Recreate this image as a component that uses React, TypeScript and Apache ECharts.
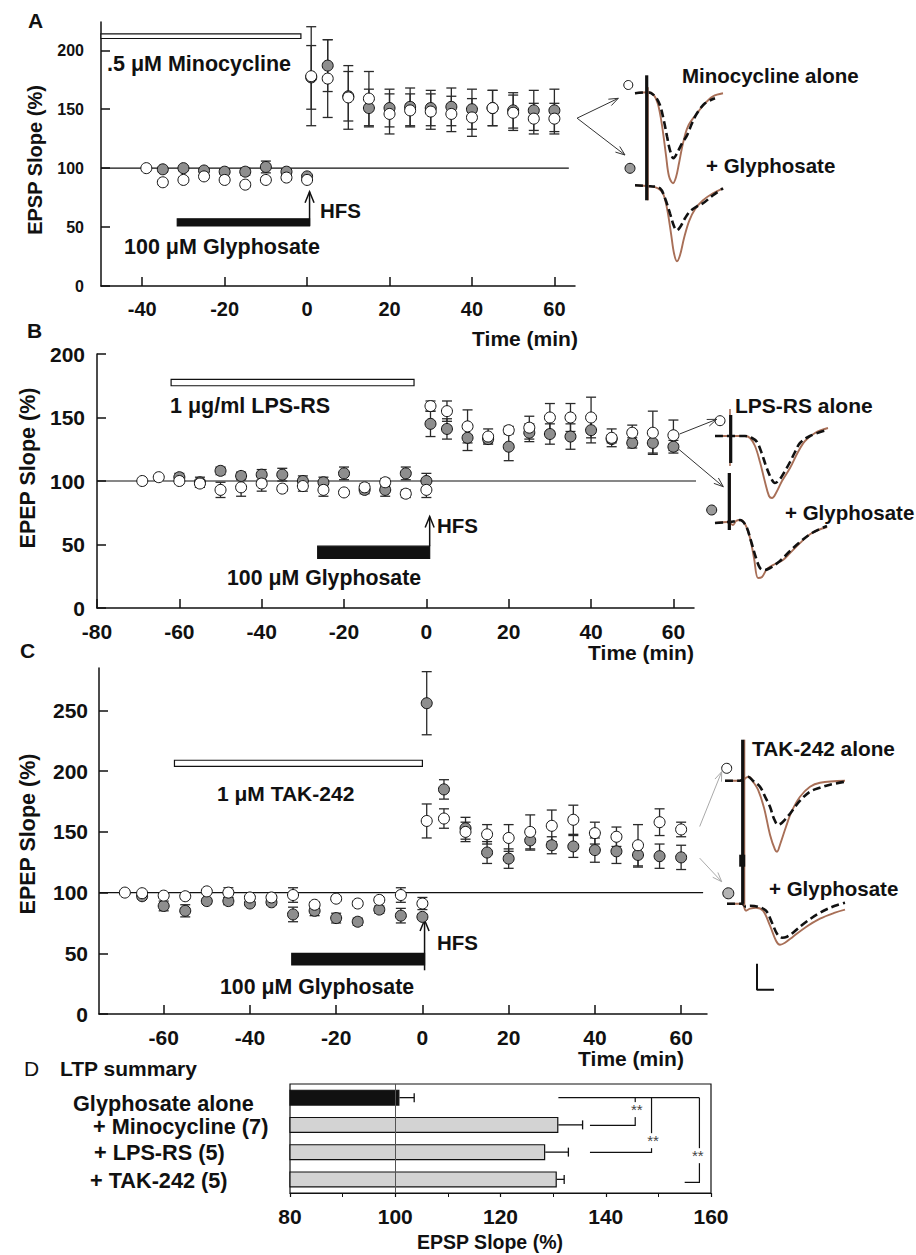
import React, { useEffect, useRef } from 'react';
import * as echarts from 'echarts';

const FONT = '"Liberation Sans", Arial, Helvetica, sans-serif';
const INK = '#111111';
const DOT_GRAY = '#8e8e8e';
const BROWN = '#a86f57';
const BASELINE = 100;

// ---------------- Panel A (Minocycline) ----------------
const A_GRAY_T = [-35, -30, -25, -20, -15, -10, -5, 0, 1, 5, 10, 15, 20, 25, 30, 35, 40, 45, 50, 55, 60];
const A_GRAY_V = [99, 100, 98, 97, 97, 101, 97, 93, 177, 187, 161, 151, 151, 152, 151, 152, 150, 151, 149, 149, 149];
const A_GRAY_E = [2, 2, 2, 2, 3, 5, 2, 1, 27, 22, 21, 16, 16, 16, 15, 16, 17, 15, 15, 17, 18];
const A_OPEN_T = [-39, -35, -30, -25, -20, -15, -10, -5, 0, 1, 5, 10, 15, 20, 25, 30, 35, 40, 45, 50, 55, 60];
const A_OPEN_V = [100, 88, 90, 93, 90, 86, 90, 92, 90, 178, 176, 160, 159, 146, 149, 148, 146, 143, 151, 147, 142, 142];
const A_OPEN_E = [1, 2, 2, 2, 2, 2, 2, 2, 2, 42, 33, 27, 23, 17, 14, 15, 15, 16, 15, 15, 13, 13];
const A_X_TICKS = [-40, -20, 0, 20, 40, 60];
const A_Y_TICKS = [0, 50, 100, 150, 200];
const A_DRUG_BAR = [-50, -1.5, 210, 214];
const A_GLY_BAR = [-31.5, 0.6, 51, 57];
const A_HFS = [0.6, 51, 80];
const A_LINE_END = 63.5;

// ---------------- Panel B (LPS-RS) ----------------
const B_OPEN_T = [-69, -65, -60, -55, -50, -45, -40, -35, -30, -25, -20, -15, -10, -5, 0, 1, 5, 10, 15, 20, 25, 30, 35, 40, 45, 50, 55, 60];
const B_OPEN_V = [100, 103, 100, 98, 93, 95, 98, 94, 96, 93, 91, 95, 99, 90, 93, 159, 155, 143, 135, 140, 142, 150, 150, 150, 134, 138, 138, 136];
const B_OPEN_E = [1, 1, 2, 3, 6, 7, 6, 2, 4, 5, 2, 3, 3, 3, 6, 4, 8, 13, 6, 3, 9, 11, 11, 16, 7, 6, 17, 12];
const B_GRAY_T = [-60, -55, -50, -45, -40, -35, -30, -25, -20, -15, -10, -5, 0, 1, 5, 10, 15, 20, 25, 30, 35, 40, 45, 50, 55, 60];
const B_GRAY_V = [103, 99, 108, 104, 105, 105, 100, 99, 106, 93, 93, 106, 100, 145, 141, 134, 133, 127, 138, 137, 135, 140, 133, 130, 130, 127];
const B_GRAY_E = [3, 4, 3, 3, 4, 5, 4, 4, 5, 3, 5, 5, 6, 10, 8, 10, 3, 11, 7, 8, 10, 10, 3, 4, 8, 5];
const B_X_TICKS = [-80, -60, -40, -20, 0, 20, 40, 60];
const B_Y_TICKS = [0, 50, 100, 150, 200];
const B_DRUG_BAR = [-62, -3, 175, 180];
const B_GLY_BAR = [-26.4, 0.8, 39, 48.7];
const B_HFS = [0.8, 48.7, 72];
const B_LINE_END = 66.5;

// ---------------- Panel C (TAK-242) ----------------
const C_OPEN_T = [-69, -65, -60, -55, -50, -45, -40, -35, -30, -25, -20, -15, -10, -5, 0, 1, 5, 10, 15, 20, 25, 30, 35, 40, 45, 50, 55, 60];
const C_OPEN_V = [100, 99.5, 97.5, 97, 101, 100, 96, 96, 98, 90, 95, 91, 94, 98, 91, 159, 161, 150, 148, 145, 150, 155, 160, 149, 146, 139, 158, 152];
const C_OPEN_E = [1, 1, 2, 1, 1, 4, 1, 1, 6, 2, 2, 2, 2, 6, 5, 14, 8, 8, 8, 11, 14, 13, 12, 9, 8, 17, 11, 6];
const C_GRAY_T = [-65, -60, -55, -50, -45, -40, -35, -30, -25, -20, -15, -10, -5, 0, 1, 5, 10, 15, 20, 25, 30, 35, 40, 45, 50, 55, 60];
const C_GRAY_V = [97, 89, 85, 93, 93, 91, 92, 82, 85, 79, 76, 86, 81, 80, 256, 185, 153, 133, 128, 143, 139, 138, 135, 134, 131, 130, 129];
const C_GRAY_E = [1, 4, 5, 2, 3, 2, 2, 6, 4, 4, 3, 3, 6, 2, 26, 8, 9, 9, 8, 8, 7, 9, 10, 10, 10, 10, 10];
const C_X_TICKS = [-60, -40, -20, 0, 20, 40, 60];
const C_Y_TICKS = [0, 50, 100, 150, 200, 250];
const C_DRUG_BAR = [-57.5, 0, 204, 209];
const C_GLY_BAR = [-30.3, 0.5, 40.4, 50];
const C_HFS = [0.5, 36, 77.5];
const C_LINE_END = 65.1;

// ---------------- Panel D (LTP summary) ----------------
const D_CATEGORIES = ['Glyphosate alone', '+ Minocycline (7)', '+ LPS-RS (5)', '+ TAK-242 (5)'];
const D_VALUES = [100.8, 131, 128.5, 130.7];
const D_ERR = [2.8, 4.6, 4.4, 1.4];
const D_TOP_LINE = [131, 157.8, 0];
const D_BRACKETS = [[145.6, 1.02, 137], [148.7, 2.01, 137], [157.8, 3.11, 155]];
const D_STARS = [[145.9, 0.44], [149.0, 1.58], [157.5, 2.13]];

// ---------------- Example traces (ms, mV) ----------------
const A_UP_BROWN = [[0.5, 0], [1.8, 0.01], [2.4, -0.02], [2.8, -0.11], [3.2, -0.32], [3.6, -0.62], [3.9, -0.83], [4.3, -0.9], [4.6, -0.84], [4.9, -0.7], [5.3, -0.5], [5.8, -0.33], [6.7, -0.2], [7.5, -0.1], [8.3, -0.03], [9.3, 0]];
const A_UP_BLACK = [[0.5, 0], [1.8, 0.01], [2.5, -0.03], [3.0, -0.12], [3.4, -0.28], [3.7, -0.43], [4.0, -0.57], [4.35, -0.65], [4.7, -0.6], [5.2, -0.5], [5.7, -0.42], [6.2, -0.3], [6.7, -0.2], [7.5, -0.1], [8.5, -0.05]];
const A_LOW_BROWN = [[0.5, -0.92], [2.0, -0.93], [2.8, -0.95], [3.3, -1.0], [3.7, -1.15], [4.1, -1.4], [4.4, -1.6], [4.7, -1.68], [5.0, -1.62], [5.4, -1.45], [5.9, -1.28], [6.5, -1.16], [7.3, -1.07], [8.3, -1.0], [9.3, -0.95]];
const A_LOW_BLACK = [[0.5, -0.92], [2.0, -0.93], [3.0, -0.95], [3.5, -1.05], [4.0, -1.2], [4.4, -1.33], [4.7, -1.37], [5.0, -1.34], [5.5, -1.25], [6.0, -1.18], [6.7, -1.13], [7.3, -1.1], [8.3, -1.02], [9.3, -0.95]];
const A_ART_BLACK = [[1.67, 0.18], [1.67, -1.07]];
const A_ART_BROWN = [[1.8, 0.06], [1.8, -1.07]];
const A_MARK_OPEN = [[-0.17, 0.083]];
const A_MARK_GRAY = [[0, -0.75]];

const B_UP_BROWN = [[1.5, 0], [4.5, 0], [5.0, -0.02], [5.5, -0.1], [6.0, -0.26], [6.5, -0.46], [6.9, -0.6], [7.2, -0.62], [7.6, -0.57], [8.2, -0.45], [9.0, -0.32], [9.8, -0.16], [10.5, -0.05], [11.5, 0.03], [12.8, 0.08]];
const B_UP_BLACK = [[1.5, 0], [4.5, 0], [5.2, -0.02], [5.7, -0.06], [6.2, -0.18], [6.6, -0.3], [7.1, -0.42], [7.5, -0.47], [8.0, -0.43], [8.5, -0.35], [9.0, -0.26], [9.5, -0.16], [10.0, -0.07], [11.0, 0.0], [12.7, 0.06]];
const B_LOW_BROWN = [[1.5, -0.87], [2.8, -0.86], [3.3, -0.89], [3.6, -0.85], [4.0, -0.84], [4.5, -0.88], [5.0, -1.02], [5.4, -1.22], [5.8, -1.42], [6.2, -1.41], [6.7, -1.33], [7.5, -1.28], [8.3, -1.24], [9.0, -1.17], [10.0, -1.07], [11.2, -0.97], [12.7, -0.91]];
const B_LOW_BLACK = [[1.5, -0.87], [2.8, -0.86], [3.6, -0.85], [4.0, -0.84], [4.6, -0.9], [5.1, -1.05], [5.6, -1.22], [6.0, -1.32], [6.4, -1.34], [7.0, -1.32], [8.0, -1.25], [9.0, -1.15], [10.0, -1.06], [11.2, -0.97], [12.7, -0.9]];
const B_ART_UP_BLACK = [[3.07, 0.21], [3.07, -0.27]];
const B_ART_UP_BROWN = [[3.0, 0.27], [3.0, -0.3]];
const B_ART_LOW_BLACK = [[2.93, -0.37], [2.93, -0.94]];
const B_ART_LOW_BROWN = [[3.02, -0.37], [3.02, -0.94]];
const B_MARK_OPEN = [[2.0, 0.153]];
const B_MARK_GRAY = [[1.17, -0.74]];

const C_UP_BROWN = [[0.5, 0], [2.2, 0], [2.6, 0.03], [2.9, 0.04], [3.3, -0.01], [3.8, -0.09], [4.4, -0.27], [5.0, -0.54], [5.5, -0.69], [5.7, -0.71], [6.0, -0.64], [6.6, -0.46], [7.2, -0.3], [8.0, -0.16], [9.0, -0.06], [10.0, -0.02], [12.5, 0]];
const C_UP_BLACK = [[0.5, 0], [2.0, 0], [2.8, 0.04], [3.3, 0.0], [4.0, -0.06], [4.6, -0.18], [5.0, -0.26], [5.4, -0.38], [5.8, -0.44], [6.2, -0.42], [7.0, -0.33], [8.0, -0.2], [9.0, -0.11], [10.0, -0.07], [11.0, -0.04], [12.5, -0.01]];
const C_LOW_BROWN = [[0.7, -1.23], [2.2, -1.23], [2.6, -1.3], [3.0, -1.28], [3.6, -1.27], [4.3, -1.3], [5.0, -1.45], [5.6, -1.6], [6.0, -1.64], [6.5, -1.62], [7.3, -1.56], [8.5, -1.47], [10.0, -1.38], [11.5, -1.32], [12.5, -1.29]];
const C_LOW_BLACK = [[0.7, -1.23], [2.2, -1.23], [2.6, -1.26], [3.0, -1.25], [3.8, -1.26], [4.6, -1.3], [5.2, -1.42], [5.7, -1.53], [6.2, -1.57], [6.7, -1.56], [7.3, -1.52], [8.5, -1.42], [10.0, -1.32], [11.5, -1.25], [12.5, -1.22]];
const C_ART_BLACK = [[2.27, 0.41], [2.27, -1.23]];
const C_ART_BLOCK = [[2.22, -0.74], [2.22, -0.86]];
const C_ART_BROWN = [[2.45, 0.41], [2.45, -1.25]];
const C_SCALE_BAR = [[3.7, -1.83], [3.7, -2.09], [5.4, -2.09]];
const C_MARK_OPEN = [[0.67, 0.124]];
const C_MARK_GRAY = [[0.83, -1.126]];

// arrows: [gridFrom, pointFrom, gridTo, pointTo, color]
const ARROWS: [number, number[], number, number[], string][] = [
  [0, [65.5, 142.4], 4, [-1.17, -0.05], '#333'],
  [0, [65.5, 142.4], 4, [-0.5, -0.617], '#333'],
  [1, [61.5, 137], 5, [1.67, 0.167], '#333'],
  [1, [61.3, 125], 5, [2.33, -0.507], '#333'],
  [2, [64.3, 154.4], 6, [0.17, 0.09], '#aaa'],
  [2, [64.3, 128.4], 6, [0.17, -1.01], '#aaa'],
];

// ---------------- helpers ----------------
const pair = (t: number[], v: number[]) => t.map((x, i) => [x, v[i]]);
const triple = (t: number[], v: number[], e: number[]) => t.map((x, i) => [x, v[i], e[i]]);

function mainXAxis(gi: number, min: number, max: number, ticks: number[], fontSize: number, margin: number) {
  return {
    type: 'value', gridIndex: gi, min, max,
    axisLine: { show: true, onZero: false, lineStyle: { color: INK, width: 1.5 } },
    axisTick: { show: true, inside: true, length: 9, customValues: ticks, lineStyle: { color: INK, width: 1.5 } },
    axisLabel: { show: true, customValues: ticks, fontFamily: FONT, fontWeight: 'bold', fontSize, color: INK, margin },
    splitLine: { show: false },
  };
}
function mainYAxis(gi: number, min: number, max: number, ticks: number[], fontSize: number, margin: number) {
  return {
    type: 'value', gridIndex: gi, min, max,
    axisLine: { show: true, onZero: false, lineStyle: { color: INK, width: 1.5 } },
    axisTick: { show: true, inside: true, length: 9, customValues: ticks, lineStyle: { color: INK, width: 1.5 } },
    axisLabel: { show: true, customValues: ticks, fontFamily: FONT, fontWeight: 'bold', fontSize, color: INK, margin },
    splitLine: { show: false },
  };
}
const hiddenAxis = (gi: number, min: number, max: number, extra: any = {}) => ({ type: 'value', gridIndex: gi, min, max, show: false, ...extra });

function errorBars(gi: number, t: number[], v: number[], e: number[], z: number) {
  return {
    type: 'custom', xAxisIndex: gi, yAxisIndex: gi, z, silent: true, clip: false,
    data: triple(t, v, e),
    encode: { x: 0, y: 1 },
    renderItem: (_p: any, api: any) => {
      const x = api.value(0), m = api.value(1), err = api.value(2);
      const top = api.coord([x, m + err]);
      const bot = api.coord([x, m - err]);
      const c = 5;
      const st = { stroke: '#2a2a2a', lineWidth: 1.3 };
      return {
        type: 'group', children: [
          { type: 'line', shape: { x1: top[0], y1: top[1], x2: bot[0], y2: bot[1] }, style: st },
          { type: 'line', shape: { x1: top[0] - c, y1: top[1], x2: top[0] + c, y2: top[1] }, style: st },
          { type: 'line', shape: { x1: bot[0] - c, y1: bot[1], x2: bot[0] + c, y2: bot[1] }, style: st },
        ],
      };
    },
  };
}
function dots(gi: number, data: number[][], color: string, size: number, z: number) {
  return {
    type: 'scatter', xAxisIndex: gi, yAxisIndex: gi, data, symbol: 'circle', symbolSize: size,
    itemStyle: { color, borderColor: INK, borderWidth: 1, opacity: 1 }, z, silent: true, clip: false,
  };
}
function drugBar(gi: number, spec: number[], fill: string) {
  return {
    type: 'custom', xAxisIndex: gi, yAxisIndex: gi, silent: true, clip: false, z: 2,
    data: [spec], encode: { x: [0, 1], y: [2, 3] },
    renderItem: (_p: any, api: any) => {
      const a = api.coord([api.value(0), api.value(3)]);
      const b = api.coord([api.value(1), api.value(2)]);
      return { type: 'rect', shape: { x: a[0], y: a[1], width: b[0] - a[0], height: b[1] - a[1] }, style: { fill, stroke: INK, lineWidth: 1.2 } };
    },
  };
}
function hfsArrow(gi: number, spec: number[]) {
  return {
    type: 'custom', xAxisIndex: gi, yAxisIndex: gi, silent: true, clip: false, z: 2,
    data: [spec], encode: { x: 0, y: [1, 2] },
    renderItem: (_p: any, api: any) => {
      const a = api.coord([api.value(0), api.value(1)]);
      const b = api.coord([api.value(0), api.value(2)]);
      const st = { stroke: INK, lineWidth: 1.5, fill: 'none' };
      return {
        type: 'group', children: [
          { type: 'line', shape: { x1: a[0], y1: a[1], x2: b[0], y2: b[1] }, style: st },
          { type: 'polyline', shape: { points: [[b[0] - 4.5, b[1] + 11], [b[0], b[1]], [b[0] + 4.5, b[1] + 11]] }, style: st },
        ],
      };
    },
  };
}
function refLine(gi: number, x0: number, x1: number) {
  return {
    type: 'line', xAxisIndex: gi, yAxisIndex: gi, data: [[x0, BASELINE], [x1, BASELINE]],
    showSymbol: false, symbol: 'none', silent: true, clip: false, z: 1,
    lineStyle: { color: INK, width: 1.2 },
  };
}
function trace(gi: number, data: number[][], kind: 'brown' | 'black' | 'art' | 'artBrown' | 'block' | 'scale') {
  const styles: any = {
    brown: { color: BROWN, width: 1.9 },
    black: { color: INK, width: 2.6, type: [8, 4] },
    art: { color: INK, width: 3.2 },
    artBrown: { color: BROWN, width: 1.6 },
    block: { color: INK, width: 6 },
    scale: { color: INK, width: 2 },
  };
  return {
    type: 'line', xAxisIndex: gi, yAxisIndex: gi, data, showSymbol: false, symbol: 'none', silent: true, clip: false,
    smooth: kind === 'brown' || kind === 'black' ? 0.35 : false,
    z: kind === 'black' ? 6 : kind === 'brown' ? 5 : 7,
    lineStyle: styles[kind],
  };
}

function buildOption() {
  const grids = [
    { left: 101, top: 22, width: 474, height: 264 },
    { left: 97, top: 354, width: 597, height: 254 },
    { left: 99, top: 668, width: 608, height: 346 },
    { left: 290, top: 1084, width: 421, height: 109, show: true, borderColor: INK, borderWidth: 1.2, backgroundColor: 'transparent' },
    { left: 620, top: 73.3, width: 110, height: 200 },
    { left: 700, top: 396, width: 140, height: 200 },
    { left: 720, top: 730.7, width: 130, height: 270 },
  ].map((g) => ({ containLabel: false, outerBoundsMode: 'none', ...g }));

  const xAxis = [
    mainXAxis(0, -50, 65, A_X_TICKS, 20, 13),
    mainXAxis(1, -80, 65, B_X_TICKS, 21, 13),
    mainXAxis(2, -75, 66, C_X_TICKS, 21, 13),
    {
      type: 'value', gridIndex: 3, min: 80, max: 160, interval: 20,
      axisLine: { show: true, onZero: false, lineStyle: { color: INK, width: 1.2 } },
      axisTick: { show: true, inside: false, length: 4, lineStyle: { color: INK, width: 1.2 } },
      minorTick: { show: true, splitNumber: 2, length: 4, lineStyle: { color: INK, width: 1 } },
      axisLabel: { fontFamily: FONT, fontWeight: 'bold', fontSize: 21, color: INK, margin: 13 },
      splitLine: { show: false }, minorSplitLine: { show: false },
    },
    hiddenAxis(4, -1, 10),
    hiddenAxis(5, 0, 14),
    hiddenAxis(6, 0, 13),
  ];
  const yAxis = [
    mainYAxis(0, 0, 224, A_Y_TICKS, 16, 17),
    mainYAxis(1, 0, 200, B_Y_TICKS, 21, 12),
    mainYAxis(2, 0, 285, C_Y_TICKS, 21, 11),
    { type: 'category', gridIndex: 3, data: D_CATEGORIES, inverse: true, axisLine: { show: false }, axisTick: { show: false }, axisLabel: { show: false } },
    hiddenAxis(4, -1.8, 0.2),
    hiddenAxis(5, -1.6, 0.4),
    hiddenAxis(6, -2.2, 0.5),
    hiddenAxis(3, -0.5, 3.5, { inverse: true }),
  ];

  const series: any[] = [
    // Panel A
    refLine(0, -50, A_LINE_END),
    drugBar(0, A_DRUG_BAR, '#ffffff'),
    drugBar(0, A_GLY_BAR, INK),
    hfsArrow(0, A_HFS),
    errorBars(0, A_GRAY_T, A_GRAY_V, A_GRAY_E, 3),
    errorBars(0, A_OPEN_T, A_OPEN_V, A_OPEN_E, 3),
    dots(0, pair(A_GRAY_T, A_GRAY_V), DOT_GRAY, 11, 4),
    dots(0, pair(A_OPEN_T, A_OPEN_V), '#ffffff', 11, 5),
    // Panel B
    refLine(1, -80, B_LINE_END),
    drugBar(1, B_DRUG_BAR, '#ffffff'),
    drugBar(1, B_GLY_BAR, INK),
    hfsArrow(1, B_HFS),
    errorBars(1, B_GRAY_T, B_GRAY_V, B_GRAY_E, 3),
    errorBars(1, B_OPEN_T, B_OPEN_V, B_OPEN_E, 3),
    dots(1, pair(B_GRAY_T, B_GRAY_V), DOT_GRAY, 11, 4),
    dots(1, pair(B_OPEN_T, B_OPEN_V), '#ffffff', 11, 5),
    // Panel C
    refLine(2, -75, C_LINE_END),
    drugBar(2, C_DRUG_BAR, '#ffffff'),
    drugBar(2, C_GLY_BAR, INK),
    hfsArrow(2, C_HFS),
    errorBars(2, C_GRAY_T, C_GRAY_V, C_GRAY_E, 3),
    errorBars(2, C_OPEN_T, C_OPEN_V, C_OPEN_E, 3),
    dots(2, pair(C_GRAY_T, C_GRAY_V), DOT_GRAY, 11, 4),
    dots(2, pair(C_OPEN_T, C_OPEN_V), '#ffffff', 11, 5),
    // Panel D
    {
      type: 'bar', xAxisIndex: 3, yAxisIndex: 3, barWidth: 16, silent: true, z: 2,
      data: D_VALUES.map((v, i) => ({ value: v, itemStyle: { color: i === 0 ? INK : '#d3d3d3' } })),
      itemStyle: { borderColor: INK, borderWidth: 1.2 },
      markLine: { silent: true, symbol: 'none', label: { show: false }, lineStyle: { color: '#555', width: 1, type: 'solid' }, data: [{ xAxis: 100 }] },
    },
    {
      type: 'custom', xAxisIndex: 3, yAxisIndex: 7, silent: true, clip: false, z: 3,
      data: D_VALUES.map((v, i) => [v, i, D_ERR[i]]), encode: { x: 0, y: 1 },
      renderItem: (_p: any, api: any) => {
        const a = api.coord([api.value(0), api.value(1)]);
        const b = api.coord([api.value(0) + api.value(2), api.value(1)]);
        const st = { stroke: INK, lineWidth: 1.3 };
        return {
          type: 'group', children: [
            { type: 'line', shape: { x1: a[0], y1: a[1], x2: b[0], y2: b[1] }, style: st },
            { type: 'line', shape: { x1: b[0], y1: b[1] - 4.5, x2: b[0], y2: b[1] + 4.5 }, style: st },
          ],
        };
      },
    },
    {
      type: 'custom', xAxisIndex: 3, yAxisIndex: 7, silent: true, clip: false, z: 3,
      data: [D_TOP_LINE], encode: { x: [0, 1], y: 2 },
      renderItem: (_p: any, api: any) => {
        const a = api.coord([api.value(0), api.value(2)]);
        const b = api.coord([api.value(1), api.value(2)]);
        return { type: 'line', shape: { x1: a[0], y1: a[1], x2: b[0], y2: b[1] }, style: { stroke: INK, lineWidth: 1.2 } };
      },
    },
    {
      type: 'custom', xAxisIndex: 3, yAxisIndex: 7, silent: true, clip: false, z: 3,
      data: D_BRACKETS, encode: { x: [0, 2], y: 1 },
      renderItem: (_p: any, api: any) => {
        const a = api.coord([api.value(0), D_TOP_LINE[2]]);
        const b = api.coord([api.value(0), api.value(1)]);
        const c = api.coord([api.value(2), api.value(1)]);
        return { type: 'polyline', shape: { points: [a, b, c] }, style: { stroke: INK, lineWidth: 1.2, fill: 'none' } };
      },
    },
    {
      type: 'custom', xAxisIndex: 3, yAxisIndex: 7, silent: true, clip: false, z: 4,
      data: D_STARS, encode: { x: 0, y: 1 },
      renderItem: (_p: any, api: any) => {
        const p = api.coord([api.value(0), api.value(1)]);
        return {
          type: 'text', x: p[0], y: p[1],
          style: { text: '**', fill: '#444', fontFamily: FONT, fontSize: 15, align: 'center', verticalAlign: 'middle', backgroundColor: '#fff' },
        };
      },
    },
    // Traces A
    trace(4, A_UP_BROWN, 'brown'), trace(4, A_UP_BLACK, 'black'),
    trace(4, A_LOW_BROWN, 'brown'), trace(4, A_LOW_BLACK, 'black'),
    trace(4, A_ART_BROWN, 'artBrown'), trace(4, A_ART_BLACK, 'art'),
    dots(4, A_MARK_OPEN, '#ffffff', 9, 8), dots(4, A_MARK_GRAY, '#9a9a9a', 10, 8),
    // Traces B
    trace(5, B_UP_BROWN, 'brown'), trace(5, B_UP_BLACK, 'black'),
    trace(5, B_LOW_BROWN, 'brown'), trace(5, B_LOW_BLACK, 'black'),
    trace(5, B_ART_UP_BROWN, 'artBrown'), trace(5, B_ART_UP_BLACK, 'art'),
    trace(5, B_ART_LOW_BROWN, 'artBrown'), trace(5, B_ART_LOW_BLACK, 'art'),
    dots(5, B_MARK_OPEN, '#ffffff', 10, 8), dots(5, B_MARK_GRAY, '#9a9a9a', 10, 8),
    // Traces C
    trace(6, C_UP_BROWN, 'brown'), trace(6, C_UP_BLACK, 'black'),
    trace(6, C_LOW_BROWN, 'brown'), trace(6, C_LOW_BLACK, 'black'),
    trace(6, C_ART_BROWN, 'artBrown'), trace(6, C_ART_BLACK, 'art'), trace(6, C_ART_BLOCK, 'block'),
    trace(6, C_SCALE_BAR, 'scale'),
    dots(6, C_MARK_OPEN, '#ffffff', 10, 8), dots(6, C_MARK_GRAY, '#b4b4b4', 11, 8),
  ];

  return {
    animation: false,
    backgroundColor: '#ffffff',
    textStyle: { fontFamily: FONT },
    grid: grids,
    xAxis,
    yAxis,
    series,
  };
}

function txt(text: string, x: number, y: number, size: number, opts: any = {}) {
  const align = opts.align || 'left';
  return {
    type: 'text', x, y, rotation: opts.rotation || 0, z: 50, silent: true,
    style: {
      text, fill: INK, fontFamily: FONT, fontSize: size, fontWeight: opts.weight || 'bold',
      align, verticalAlign: 'middle', textAlign: align, textVerticalAlign: 'middle',
    },
  };
}

function arrowEls(p1: number[], p2: number[], color: string) {
  const ang = Math.atan2(p2[1] - p1[1], p2[0] - p1[0]);
  const L = 10, w = 0.36;
  const h1 = [p2[0] - L * Math.cos(ang - w), p2[1] - L * Math.sin(ang - w)];
  const h2 = [p2[0] - L * Math.cos(ang + w), p2[1] - L * Math.sin(ang + w)];
  return [
    { type: 'line', silent: true, z: 40, shape: { x1: p1[0], y1: p1[1], x2: p2[0], y2: p2[1] }, style: { stroke: color, lineWidth: 1 } },
    { type: 'polyline', silent: true, z: 40, shape: { points: [h1, p2, h2] }, style: { stroke: color, lineWidth: 1, fill: 'none' } },
  ];
}

const D_LABEL_POS = [[73, 1103], [93, 1126], [94, 1152], [90, 1180]];

function buildGraphics(chart: any) {
  const els: any[] = [];
  const R = Math.PI / 2;
  // panel letters
  els.push(txt('A', 28, 20, 21));
  els.push(txt('B', 27, 330, 21));
  els.push(txt('C', 20, 650, 21));
  els.push(txt('D', 24, 1068, 21, { weight: 'normal' }));
  // Panel A texts
  els.push(txt('EPSP Slope (%)', 35, 160, 20, { align: 'center', rotation: R }));
  els.push(txt('.5 μM Minocycline', 107, 64, 21.5));
  els.push(txt('100 μM Glyphosate', 124, 247, 21.5));
  els.push(txt('HFS', 320, 210, 20.5));
  els.push(txt('Time (min)', 525, 338, 21, { align: 'center' }));
  els.push(txt('Minocycline alone', 682, 75, 20.5));
  els.push(txt('+ Glyphosate', 706, 165, 20.5));
  // Panel B texts
  els.push(txt('EPEP Slope (%)', 28, 468, 21.5, { align: 'center', rotation: R }));
  els.push(txt('1 μg/ml LPS-RS', 170, 406, 21.5));
  els.push(txt('100 μM Glyphosate', 227, 578, 21.3));
  els.push(txt('HFS', 437, 525, 20.5));
  els.push(txt('Time (min)', 641, 652, 21, { align: 'center' }));
  els.push(txt('LPS-RS alone', 735, 405, 21));
  els.push(txt('+ Glyphosate', 785, 512, 20.5));
  // Panel C texts
  els.push(txt('EPEP Slope (%)', 28, 834, 21.5, { align: 'center', rotation: R }));
  els.push(txt('1 μM TAK-242', 217, 793, 21));
  els.push(txt('100 μM Glyphosate', 220, 987, 21.3));
  els.push(txt('HFS', 437, 942, 20.5));
  els.push(txt('Time (min)', 631, 1058, 21, { align: 'center' }));
  els.push(txt('TAK-242 alone', 752, 748, 20.8));
  els.push(txt('+ Glyphosate', 769, 888, 20.5));
  // Panel D texts
  els.push(txt('LTP summary', 60, 1068, 21));
  D_CATEGORIES.forEach((c, i) => els.push(txt(c, D_LABEL_POS[i][0], D_LABEL_POS[i][1], 21.7)));
  els.push(txt('EPSP Slope (%)', 490, 1242, 19.5, { align: 'center' }));
  // arrows from data to example traces
  ARROWS.forEach(([g1, p1, g2, p2, color]) => {
    const a = chart.convertToPixel({ xAxisIndex: g1, yAxisIndex: g1 }, p1);
    const b = chart.convertToPixel({ xAxisIndex: g2, yAxisIndex: g2 }, p2);
    if (a && b) els.push(...arrowEls(a, b, color));
  });
  return els;
}

export default function App() {
  const ref = useRef<HTMLDivElement>(null);
  useEffect(() => {
    if (!ref.current) return;
    const chart = echarts.init(ref.current, null, { renderer: 'svg' });
    chart.setOption(buildOption() as any);
    chart.setOption({ graphic: buildGraphics(chart) } as any);
    return () => chart.dispose();
  }, []);
  return (
    <div
      ref={ref}
      style={{ position: 'absolute', left: 0, top: 0, width: 916, height: 1255, background: '#ffffff' }}
    />
  );
}
